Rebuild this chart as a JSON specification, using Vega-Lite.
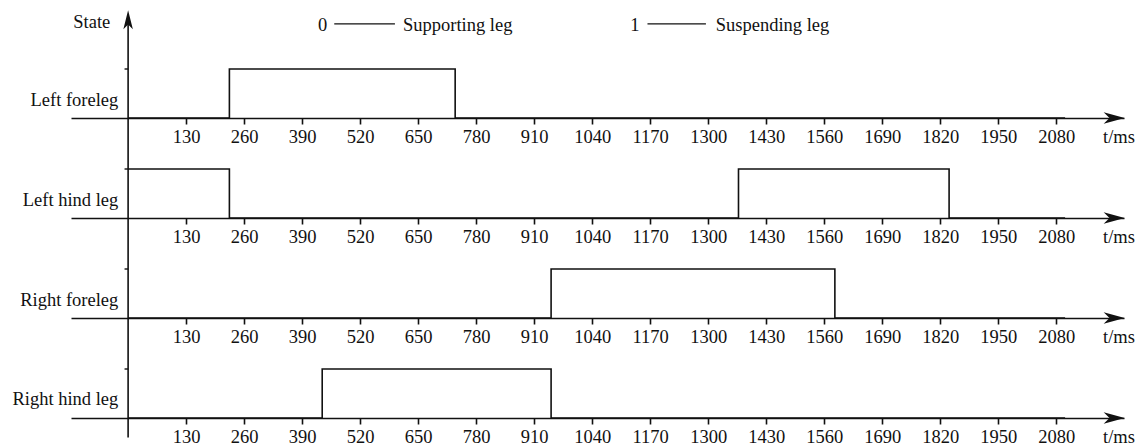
{
  "$schema": "https://vega.github.io/schema/vega-lite/v6.json",
  "padding": {"left": 12, "top": 10, "right": 3, "bottom": 2},
  "background": "white",
  "config": {
    "view": {"stroke": null},
    "font": "Liberation Serif",
    "text": {"fontSize": 18.5, "font": "Liberation Serif", "color": "#111", "baseline": "middle"},
    "axisX": {
      "domainColor": "#111", "domainWidth": 1.6, "tickColor": "#111", "tickWidth": 1.6, "tickSize": 6,
      "labelFont": "Liberation Serif", "labelFontSize": 18.5, "labelColor": "#111", "labelPadding": 3,
      "grid": false, "labelFlush": false, "labelOverlap": false, "format": "d"
    }
  },
  "data": {"values": [
    {"leg": "Left foreleg", "t": 0, "state": 0},
    {"leg": "Left foreleg", "t": 227, "state": 1},
    {"leg": "Left foreleg", "t": 733, "state": 0},
    {"leg": "Left foreleg", "t": 2100, "state": 0},
    {"leg": "Left hind leg", "t": 0, "state": 1},
    {"leg": "Left hind leg", "t": 227, "state": 0},
    {"leg": "Left hind leg", "t": 1368, "state": 1},
    {"leg": "Left hind leg", "t": 1840, "state": 0},
    {"leg": "Left hind leg", "t": 2100, "state": 0},
    {"leg": "Right foreleg", "t": 0, "state": 0},
    {"leg": "Right foreleg", "t": 948, "state": 1},
    {"leg": "Right foreleg", "t": 1584, "state": 0},
    {"leg": "Right foreleg", "t": 2100, "state": 0},
    {"leg": "Right hind leg", "t": 0, "state": 0},
    {"leg": "Right hind leg", "t": 435, "state": 1},
    {"leg": "Right hind leg", "t": 948, "state": 0},
    {"leg": "Right hind leg", "t": 2100, "state": 0}
  ]},
  "spacing": 0,
  "bounds": "flush",
  "vconcat": [
    {
      "width": 1053, "height": 100,
      "layer": [
        {"transform": [{"filter": {"field": "leg", "equal": "Left foreleg"}}],
         "mark": {"type": "line", "interpolate": "step-after", "color": "#111", "strokeWidth": 1.6},
         "encoding": {
           "x": {"field": "t", "type": "quantitative", "scale": {"domain": [-128, 2232], "nice": false, "zero": false},
                 "axis": {"title": null, "format": "d", "values": [130,260,390,520,650,780,910,1040,1170,1300,1430,1560,1690,1820,1950,2080]}},
           "y": {"field": "state", "type": "quantitative", "scale": {"domain": [0, 2.0408], "nice": false, "zero": false}, "axis": null}}},
        {"data": {"values": [{}]}, "mark": {"type": "rule", "color": "#111", "strokeWidth": 1.6},
         "encoding": {"x": {"datum": 0}, "y": {"datum": 0}, "y2": {"datum": 2.0}}},
        {"data": {"values": [{}]}, "mark": {"type": "rule", "color": "#111", "strokeWidth": 1.4},
         "encoding": {"x": {"datum": -8}, "x2": {"datum": 0}, "y": {"datum": 1}}},
        {"data": {"values": [{}]}, "mark": {"type": "point", "shape": "M0,-1L0.5,1L0,0.5L-0.5,1Z", "filled": true, "size": 361, "color": "#111", "opacity": 1, "strokeWidth": 0},
         "encoding": {"x": {"datum": 0}, "y": {"datum": 2.004}}},
        {"data": {"values": [{}]}, "mark": {"type": "point", "shape": "M1,0L-1,-0.55L-0.45,0L-1,0.55Z", "filled": true, "size": 441, "color": "#111", "opacity": 1, "strokeWidth": 0},
         "encoding": {"x": {"datum": 2210}, "y": {"datum": 0}}},
        {"data": {"values": [{}]}, "mark": {"type": "text", "align": "right"},
         "encoding": {"x": {"datum": -22}, "y": {"datum": 0.37}, "text": {"value": "Left foreleg"}}},
        {"data": {"values": [{}]}, "mark": {"type": "text", "align": "left"},
         "encoding": {"x": {"datum": 2185}, "y": {"datum": -0.39}, "text": {"value": "t/ms"}}},
        {"data": {"values": [{}]}, "mark": {"type": "text", "align": "right"},
         "encoding": {"x": {"datum": -40}, "y": {"datum": 1.96}, "text": {"value": "State"}}},
        {"data": {"values": [{}]}, "mark": {"type": "text", "align": "center"},
         "encoding": {"x": {"datum": 436}, "y": {"datum": 1.9}, "text": {"value": "0"}}},
        {"data": {"values": [{}]}, "mark": {"type": "rule", "color": "#111", "strokeWidth": 1.4},
         "encoding": {"x": {"datum": 462}, "x2": {"datum": 598}, "y": {"datum": 1.92}}},
        {"data": {"values": [{}]}, "mark": {"type": "text", "align": "left"},
         "encoding": {"x": {"datum": 616}, "y": {"datum": 1.9}, "text": {"value": "Supporting leg"}}},
        {"data": {"values": [{}]}, "mark": {"type": "text", "align": "center"},
         "encoding": {"x": {"datum": 1136}, "y": {"datum": 1.9}, "text": {"value": "1"}}},
        {"data": {"values": [{}]}, "mark": {"type": "rule", "color": "#111", "strokeWidth": 1.4},
         "encoding": {"x": {"datum": 1164}, "x2": {"datum": 1295}, "y": {"datum": 1.92}}},
        {"data": {"values": [{}]}, "mark": {"type": "text", "align": "left"},
         "encoding": {"x": {"datum": 1317}, "y": {"datum": 1.9}, "text": {"value": "Suspending leg"}}}
      ]
    },
    {
      "width": 1053, "height": 100,
      "layer": [
        {"transform": [{"filter": {"field": "leg", "equal": "Left hind leg"}}],
         "mark": {"type": "line", "interpolate": "step-after", "color": "#111", "strokeWidth": 1.6},
         "encoding": {
           "x": {"field": "t", "type": "quantitative", "scale": {"domain": [-128, 2232], "nice": false, "zero": false},
                 "axis": {"title": null, "format": "d", "values": [130,260,390,520,650,780,910,1040,1170,1300,1430,1560,1690,1820,1950,2080]}},
           "y": {"field": "state", "type": "quantitative", "scale": {"domain": [0, 2.0408], "nice": false, "zero": false}, "axis": null}}},
        {"data": {"values": [{}]}, "mark": {"type": "rule", "color": "#111", "strokeWidth": 1.6},
         "encoding": {"x": {"datum": 0}, "y": {"datum": 0}, "y2": {"datum": 2.0408}}},
        {"data": {"values": [{}]}, "mark": {"type": "rule", "color": "#111", "strokeWidth": 1.4},
         "encoding": {"x": {"datum": -8}, "x2": {"datum": 0}, "y": {"datum": 1}}},
        {"data": {"values": [{}]}, "mark": {"type": "point", "shape": "M1,0L-1,-0.55L-0.45,0L-1,0.55Z", "filled": true, "size": 441, "color": "#111", "opacity": 1, "strokeWidth": 0},
         "encoding": {"x": {"datum": 2210}, "y": {"datum": 0}}},
        {"data": {"values": [{}]}, "mark": {"type": "text", "align": "right"},
         "encoding": {"x": {"datum": -22}, "y": {"datum": 0.37}, "text": {"value": "Left hind leg"}}},
        {"data": {"values": [{}]}, "mark": {"type": "text", "align": "left"},
         "encoding": {"x": {"datum": 2185}, "y": {"datum": -0.39}, "text": {"value": "t/ms"}}}
      ]
    },
    {
      "width": 1053, "height": 100,
      "layer": [
        {"transform": [{"filter": {"field": "leg", "equal": "Right foreleg"}}],
         "mark": {"type": "line", "interpolate": "step-after", "color": "#111", "strokeWidth": 1.6},
         "encoding": {
           "x": {"field": "t", "type": "quantitative", "scale": {"domain": [-128, 2232], "nice": false, "zero": false},
                 "axis": {"title": null, "format": "d", "values": [130,260,390,520,650,780,910,1040,1170,1300,1430,1560,1690,1820,1950,2080]}},
           "y": {"field": "state", "type": "quantitative", "scale": {"domain": [0, 2.0408], "nice": false, "zero": false}, "axis": null}}},
        {"data": {"values": [{}]}, "mark": {"type": "rule", "color": "#111", "strokeWidth": 1.6},
         "encoding": {"x": {"datum": 0}, "y": {"datum": 0}, "y2": {"datum": 2.0408}}},
        {"data": {"values": [{}]}, "mark": {"type": "rule", "color": "#111", "strokeWidth": 1.4},
         "encoding": {"x": {"datum": -8}, "x2": {"datum": 0}, "y": {"datum": 1}}},
        {"data": {"values": [{}]}, "mark": {"type": "point", "shape": "M1,0L-1,-0.55L-0.45,0L-1,0.55Z", "filled": true, "size": 441, "color": "#111", "opacity": 1, "strokeWidth": 0},
         "encoding": {"x": {"datum": 2210}, "y": {"datum": 0}}},
        {"data": {"values": [{}]}, "mark": {"type": "text", "align": "right"},
         "encoding": {"x": {"datum": -22}, "y": {"datum": 0.37}, "text": {"value": "Right foreleg"}}},
        {"data": {"values": [{}]}, "mark": {"type": "text", "align": "left"},
         "encoding": {"x": {"datum": 2185}, "y": {"datum": -0.39}, "text": {"value": "t/ms"}}}
      ]
    },
    {
      "width": 1053, "height": 100,
      "layer": [
        {"transform": [{"filter": {"field": "leg", "equal": "Right hind leg"}}],
         "mark": {"type": "line", "interpolate": "step-after", "color": "#111", "strokeWidth": 1.6},
         "encoding": {
           "x": {"field": "t", "type": "quantitative", "scale": {"domain": [-128, 2232], "nice": false, "zero": false},
                 "axis": {"title": null, "format": "d", "values": [130,260,390,520,650,780,910,1040,1170,1300,1430,1560,1690,1820,1950,2080]}},
           "y": {"field": "state", "type": "quantitative", "scale": {"domain": [0, 2.0408], "nice": false, "zero": false}, "axis": null}}},
        {"data": {"values": [{}]}, "mark": {"type": "rule", "color": "#111", "strokeWidth": 1.6},
         "encoding": {"x": {"datum": 0}, "y": {"datum": -0.4}, "y2": {"datum": 2.0408}}},
        {"data": {"values": [{}]}, "mark": {"type": "rule", "color": "#111", "strokeWidth": 1.4},
         "encoding": {"x": {"datum": -8}, "x2": {"datum": 0}, "y": {"datum": 1}}},
        {"data": {"values": [{}]}, "mark": {"type": "point", "shape": "M1,0L-1,-0.55L-0.45,0L-1,0.55Z", "filled": true, "size": 441, "color": "#111", "opacity": 1, "strokeWidth": 0},
         "encoding": {"x": {"datum": 2210}, "y": {"datum": 0}}},
        {"data": {"values": [{}]}, "mark": {"type": "text", "align": "right"},
         "encoding": {"x": {"datum": -22}, "y": {"datum": 0.39}, "text": {"value": "Right hind leg"}}},
        {"data": {"values": [{}]}, "mark": {"type": "text", "align": "left"},
         "encoding": {"x": {"datum": 2185}, "y": {"datum": -0.39}, "text": {"value": "t/ms"}}}
      ]
    }
  ]
}
